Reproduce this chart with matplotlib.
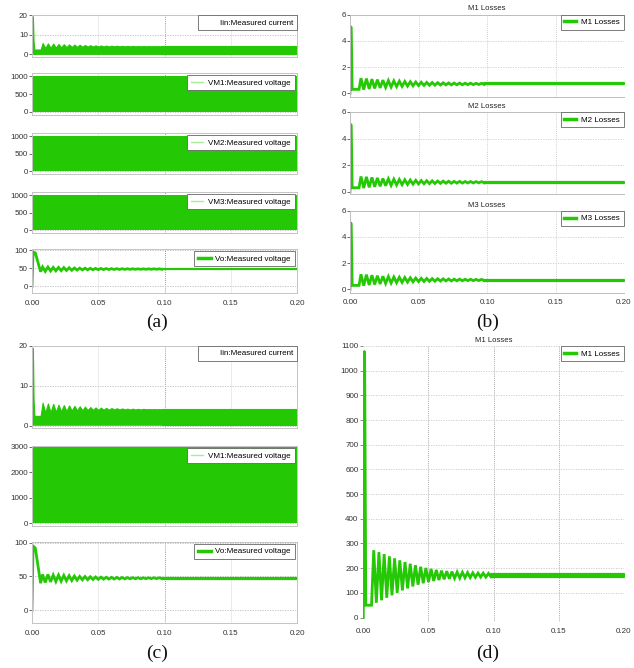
import numpy as np
import matplotlib
matplotlib.use('Agg')
import matplotlib.pyplot as plt
from matplotlib.lines import Line2D

plt.rcParams['font.family'] = ['Liberation Sans', 'DejaVu Sans']
plt.rcParams['font.size'] = 5.8

# ---- values ----
t_end = 0.2
ripple_start = 0.008    # first post start-up peak (s)
ripple_period = 0.004   # ripple period seen on every trace (s)

# input current (panels a and c)
iin_start_t = [0.0, 0.0003, 0.0008, 0.0012, 0.0018, 0.0065]
iin_start_v = [14.5, 19.5, 16.5, 6.5, 2.5, 2.5]
iin_peaks = [5.8, 5.6, 5.5, 5.3, 5.2, 5.1, 5.0, 4.9, 4.8, 4.7, 4.6, 4.55,
             4.5, 4.45, 4.4, 4.35, 4.3, 4.3, 4.25, 4.25, 4.2, 4.2, 4.2]
iin_troughs = [3.3, 3.4, 3.5, 3.6, 3.7, 3.8, 3.85, 3.9, 3.95, 4.0, 4.0, 4.05,
               4.05, 4.1, 4.1, 4.1, 4.1, 4.1, 4.1, 4.15, 4.15, 4.15, 4.15]
iin_floor = 0.3
iin_settled = 4.15

# switch voltages (filled switching bands)
vm_level_a = 1000
vm_level_c = 3000

# output voltage (panels a and c)
vo_start_t = [0.0, 0.0008, 0.0025, 0.0065]
vo_start_v = [0, 95, 92, 40]
vo_peaks = [53, 53, 52, 52, 51.5, 51, 50.5, 50, 49.8, 49.5, 49.2, 49,
            48.8, 48.6, 48.5, 48.4, 48.3, 48.2, 48.1, 48, 48, 48, 48]
vo_troughs = [41, 42, 42.5, 43, 43.5, 44, 44.5, 45, 45.2, 45.5, 45.7, 46,
              46.1, 46.2, 46.3, 46.4, 46.5, 46.6, 46.6, 46.7, 46.7, 46.8, 46.8]
vo_tail = [46.6, 48.0]

# switch losses, panel b (M1, M2, M3 identical)
m_start_t = [0.0, 0.0003, 0.0009, 0.0012, 0.0016, 0.0066]
m_start_v = [0, 5.1, 5.0, 3.0, 0.3, 0.3]
m_peaks = [1.15, 1.12, 1.08, 1.04, 1.0, 0.97, 0.94, 0.92, 0.90, 0.88, 0.86, 0.84,
           0.83, 0.82, 0.81, 0.80, 0.79, 0.78, 0.78, 0.77, 0.77, 0.76, 0.76]
m_troughs = [0.28, 0.33, 0.37, 0.41, 0.45, 0.48, 0.51, 0.53, 0.55, 0.57, 0.59, 0.60,
             0.61, 0.62, 0.63, 0.64, 0.64, 0.65, 0.65, 0.66, 0.66, 0.67, 0.67]
m_tail = [0.67, 0.75]

# switch losses, panel d
d_start_t = [0.0, 0.0004, 0.0010, 0.0013, 0.0019, 0.0063]
d_start_v = [0, 1080, 1075, 760, 50, 50]
d_peaks = [273, 265, 257, 248, 240, 232, 225, 218, 212, 206, 201, 197,
           193, 190, 188, 186, 184, 183, 182, 181, 180, 180, 179]
d_troughs = [60, 70, 80, 90, 100, 110, 118, 126, 133, 139, 144, 148,
             152, 155, 157, 159, 160, 161, 162, 163, 164, 164, 165]
d_tail = [166, 178]

x_ticks = [0.0, 0.05, 0.10, 0.15, 0.20]
green = '#25c805'
light_green = '#a8ec98'
W, H = 634, 668

fig = plt.figure(figsize=(W / 100, H / 100), dpi=100)


def px_axes(left, top, right, bottom):
    return fig.add_axes([left / W, 1 - bottom / H, (right - left) / W, (bottom - top) / H])


def ripple(start_t, start_v, peaks, troughs):
    n = len(peaks)
    t_pk = ripple_start + ripple_period * np.arange(n)
    t_tr = t_pk + ripple_period / 2
    t = np.concatenate([start_t, np.column_stack([t_pk, t_tr]).ravel()])
    v = np.concatenate([start_v, np.column_stack([peaks, troughs]).ravel()])
    return t, v


def style_box(ax, yticks, ylim, show_x=False):
    ax.set_xlim(0, t_end)
    ax.set_ylim(*ylim)
    ax.set_yticks(yticks)
    ax.set_xticks(x_ticks)
    for s in ax.spines.values():
        s.set_color('#c4c4c4')
        s.set_linewidth(0.7)
    ax.tick_params(axis='y', length=2, width=0.6, color='#555555', pad=1, labelcolor='#333333')
    ax.tick_params(axis='x', length=0, pad=5, labelcolor='#333333')
    if show_x:
        ax.set_xticklabels(['0.00', '0.05', '0.10', '0.15', '0.20'])
    else:
        ax.set_xticklabels([])
    for xv in (0.05, 0.15):
        ax.axvline(xv, color='#e8e8e8', lw=0.6, zorder=0)
    ax.axvline(0.10, color='#777777', lw=0.6, ls=(0, (1, 1.5)), zorder=0)
    for yv in yticks:
        ax.axhline(yv, color='#bbbbbb', lw=0.6, ls=(0, (1.5, 1.5)), zorder=0)


def add_legend(ax, handle, label, pad=0.0, hl=1.6):
    leg = ax.legend([handle], [label], loc='upper right', fontsize=5.8, fancybox=False,
                    framealpha=1, borderaxespad=pad, handlelength=hl, handletextpad=0.6,
                    borderpad=0.45)
    leg.get_frame().set_edgecolor('#666666')
    leg.get_frame().set_linewidth(0.6)


def draw_iin(ax):
    t, v = ripple(iin_start_t, iin_start_v, iin_peaks, iin_troughs)
    ax.fill_between(t, iin_floor, v, color=green, lw=0.8, zorder=2)
    ax.fill_between([t[-1], t_end], iin_floor, iin_settled, color=green, lw=0.8, zorder=2)
    add_legend(ax, Line2D([], [], color='none'), 'Iin:Measured current', pad=0.05)


def draw_vm(ax, level, name):
    ax.fill_between([0, t_end], 0, level, color=green, lw=0, zorder=2)
    add_legend(ax, Line2D([], [], color=light_green, lw=1.0), name, pad=0.3)


def draw_vo(ax):
    t, v = ripple(vo_start_t, vo_start_v, vo_peaks, vo_troughs)
    ax.plot(t, v, color=green, lw=2.0, zorder=2, solid_joinstyle='miter')
    ax.fill_between([t[-1], t_end], vo_tail[0], vo_tail[1], color=green, lw=1.6, zorder=2)
    add_legend(ax, Line2D([], [], color=green, lw=2.5), 'Vo:Measured voltage', pad=0.3)


def style_loss(ax, yticks, ylim, title, show_x=False):
    ax.set_xlim(0, t_end)
    ax.set_ylim(*ylim)
    ax.set_yticks(yticks)
    ax.set_xticks(x_ticks)
    ax.set_title(title, fontsize=5.6, color='#222222', pad=3)
    ax.spines['right'].set_visible(False)
    for s in ('left', 'top', 'bottom'):
        ax.spines[s].set_color('#bdbdbd')
        ax.spines[s].set_linewidth(0.7)
    ax.tick_params(axis='y', length=2, width=0.6, color='#555555', pad=1, labelcolor='#333333')
    ax.tick_params(axis='x', length=0, pad=4, labelcolor='#333333')
    if show_x:
        ax.set_xticklabels(['0.00', '0.05', '0.10', '0.15', '0.20'])
    else:
        ax.set_xticklabels([])
    for xv in (0.05, 0.10, 0.15):
        ax.axvline(xv, color='#c0c0c0', lw=0.6, ls=(0, (1, 1.5)), zorder=0)
    for yv in yticks[1:]:
        ax.axhline(yv, color='#cccccc', lw=0.6, ls=(0, (1.5, 1.5)), zorder=0)


def draw_loss(ax, start_t, start_v, peaks, troughs, tail, label):
    t, v = ripple(start_t, start_v, peaks, troughs)
    ax.plot(t, v, color=green, lw=2.0, zorder=2, solid_joinstyle='miter')
    ax.fill_between([t[-1], t_end], tail[0], tail[1], color=green, lw=1.6, zorder=2)
    add_legend(ax, Line2D([], [], color=green, lw=2.5), label, pad=0.05, hl=1.5)


# ---- panel (a) ----
a1 = px_axes(32, 15, 297, 57)
style_box(a1, [0, 10, 20], (-1.3, 20))
draw_iin(a1)

for (top, bot), name in zip([(73, 115), (133, 174), (192, 233)],
                            ['VM1:Measured voltage', 'VM2:Measured voltage', 'VM3:Measured voltage']):
    ax = px_axes(32, top, 297, bot)
    style_box(ax, [0, 500, 1000], (-85, 1095))
    draw_vm(ax, vm_level_a, name)

a5 = px_axes(32, 249, 297, 293)
style_box(a5, [0, 50, 100], (-19, 103), show_x=True)
draw_vo(a5)

# ---- panel (b) ----
for (top, bot, ylo), name in zip([(14.5, 96.7, -0.26), (112, 194, -0.17), (210.7, 293, -0.28)],
                                 ['M1', 'M2', 'M3']):
    ax = px_axes(350, top, 624, bot)
    style_loss(ax, [0, 2, 4, 6], (ylo, 6), f'{name} Losses', show_x=(name == 'M3'))
    draw_loss(ax, m_start_t, m_start_v, m_peaks, m_troughs, m_tail, f'{name} Losses')

# ---- panel (c) ----
c1 = px_axes(32, 345.7, 297, 428.3)
style_box(c1, [0, 10, 20], (-0.6, 20))
draw_iin(c1)

c2 = px_axes(32, 446, 297, 526)
style_box(c2, [0, 1000, 2000, 3000], (-110, 3025))
draw_vm(c2, vm_level_c, 'VM1:Measured voltage')

c3 = px_axes(32, 541.7, 297, 623)
style_box(c3, [0, 50, 100], (-19, 101.5), show_x=True)
draw_vo(c3)

# ---- panel (d) ----
d = px_axes(363.3, 346, 624, 622)
d_ticks = list(range(0, 1101, 100))
d.set_xlim(0, t_end)
d.set_ylim(-18, 1100)
d.set_yticks(d_ticks)
d.set_xticks(x_ticks)
d.set_xticklabels(['0.00', '0.05', '0.10', '0.15', '0.20'])
d.set_title('M1 Losses', fontsize=5.6, color='#222222', pad=3)
for s in d.spines.values():
    s.set_visible(False)
d.tick_params(axis='y', length=2, width=0.6, color='#777777', pad=1.5, labelcolor='#333333')
d.tick_params(axis='x', length=0, pad=4, labelcolor='#333333')
for xv in (0.05, 0.10, 0.15):
    d.axvline(xv, color='#8a8a8a', lw=0.6, ls=(0, (1, 1.5)), zorder=0)
for yv in d_ticks[1:]:
    d.axhline(yv, color='#c8c8c8', lw=0.6, ls=(0, (1.5, 1.5)), zorder=0)
draw_loss(d, d_start_t, d_start_v, d_peaks, d_troughs, d_tail, 'M1 Losses')

# ---- panel letters ----
for x, y, lab in [(157, 322, '(a)'), (488, 322, '(b)'), (157, 653, '(c)'), (488, 653, '(d)')]:
    fig.text(x / W, 1 - y / H, lab, family='Liberation Serif', fontsize=14,
             ha='center', va='center', color='#111111')

fig.savefig('out.png', dpi=100)
